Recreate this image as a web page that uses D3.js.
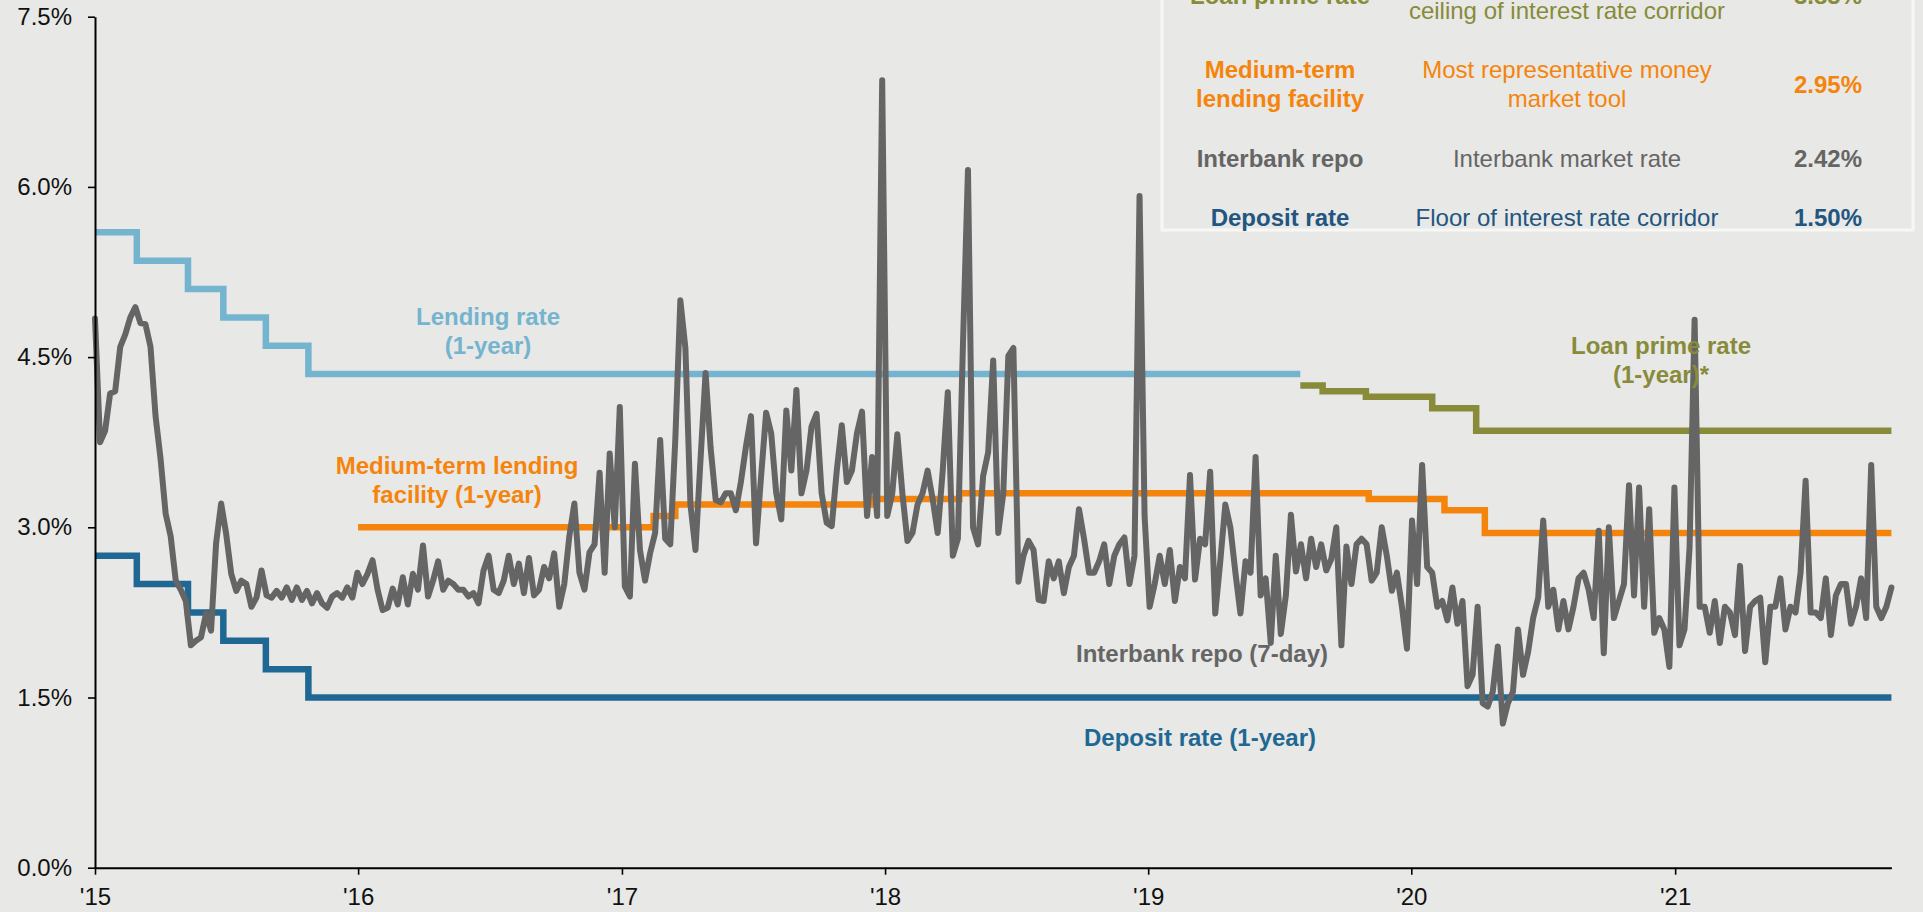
<!DOCTYPE html>
<html>
<head>
<meta charset="utf-8">
<script src="https://cdnjs.cloudflare.com/ajax/libs/d3/7.8.5/d3.min.js"></script>
<style>
  html, body { margin: 0; padding: 0; background: #e8e8e6; overflow: hidden; }
  svg { display: block; font-family: "Liberation Sans", Arial, Helvetica, sans-serif; }
</style>
</head>
<body>
<svg id="chart" width="1923" height="912"></svg>
<script>
// ---------------- DATA ----------------
const xDomain = ["2015-01-01", "2021-10-28"];
const yearTicks = ["2015-01-01", "2016-01-01", "2017-01-01", "2018-01-01", "2019-01-01", "2020-01-01", "2021-01-01"];
const yTicks = [0, 1.5, 3.0, 4.5, 6.0, 7.5];

// Benchmark 1-year lending rate (%), change dates
const lendingDates  = ["2015-01-01", "2015-02-28", "2015-05-10", "2015-06-28", "2015-08-26", "2015-10-24", "2019-07-31"];
const lendingValues = [5.60, 5.35, 5.10, 4.85, 4.60, 4.35, 4.35];

// Benchmark 1-year deposit rate (%)
const depositDates  = ["2015-01-01", "2015-02-28", "2015-05-10", "2015-06-28", "2015-08-26", "2015-10-24", "2021-10-28"];
const depositValues = [2.75, 2.50, 2.25, 2.00, 1.75, 1.50, 1.50];

// Medium-term lending facility 1-year (%)
const mlfDates  = ["2016-01-01", "2017-02-14", "2017-03-16", "2017-12-13", "2018-04-14", "2019-11-03", "2020-02-16", "2020-04-12", "2021-10-28"];
const mlfValues = [3.00, 3.10, 3.20, 3.25, 3.30, 3.25, 3.15, 2.95, 2.95];

// Loan prime rate 1-year (%)
const lprDates  = ["2019-07-31", "2019-08-31", "2019-10-30", "2020-01-30", "2020-03-31", "2021-10-28"];
const lprValues = [4.25, 4.20, 4.15, 4.05, 3.85, 3.85];

// Interbank repo 7-day (%), weekly readings starting 2015-01-01
const repoStart = "2015-01-01";
const repoValues = [
  4.84, 3.75, 3.85, 4.18, 4.20, 4.59, 4.70, 4.85, 4.94, 4.80,
  4.79, 4.59, 3.98, 3.60, 3.12, 2.92, 2.53, 2.45, 2.35, 1.96,
  2.00, 2.03, 2.24, 2.09, 2.86, 3.21, 2.94, 2.59, 2.44, 2.53,
  2.50, 2.30, 2.38, 2.62, 2.40, 2.38, 2.44, 2.38, 2.47, 2.36,
  2.47, 2.36, 2.44, 2.33, 2.42, 2.33, 2.29, 2.39, 2.42, 2.38,
  2.47, 2.38, 2.60, 2.50, 2.59, 2.71, 2.45, 2.27, 2.29, 2.46,
  2.32, 2.56, 2.32, 2.59, 2.45, 2.84, 2.39, 2.53, 2.70, 2.45,
  2.53, 2.50, 2.45, 2.45, 2.39, 2.42, 2.33, 2.62, 2.75, 2.45,
  2.42, 2.53, 2.75, 2.50, 2.68, 2.42, 2.73, 2.40, 2.45, 2.65,
  2.55, 2.77, 2.30, 2.50, 2.92, 3.21, 2.60, 2.45, 2.78, 2.85,
  3.48, 2.60, 3.65, 3.00, 4.06, 2.48, 2.39, 3.56, 2.80, 2.53,
  2.77, 2.95, 3.77, 2.90, 2.85, 3.77, 5.00, 4.58, 3.20, 2.80,
  3.60, 4.36, 3.70, 3.24, 3.22, 3.30, 3.30, 3.15, 3.40, 3.71,
  3.98, 2.86, 3.45, 4.01, 3.83, 3.30, 3.07, 4.03, 3.50, 4.21,
  3.30, 3.50, 3.89, 4.00, 3.30, 3.04, 3.01, 3.50, 3.90, 3.40,
  3.50, 3.83, 4.02, 3.10, 3.62, 3.10, 6.94, 3.10, 3.30, 3.82,
  3.30, 2.88, 2.95, 3.20, 3.30, 3.50, 3.25, 2.95, 3.50, 4.19,
  2.75, 2.90, 4.60, 6.15, 3.00, 2.85, 3.45, 3.66, 4.47, 2.95,
  3.30, 4.51, 4.58, 2.52, 2.75, 2.88, 2.80, 2.36, 2.35, 2.70,
  2.55, 2.70, 2.42, 2.65, 2.75, 3.16, 2.90, 2.60, 2.60, 2.70,
  2.85, 2.50, 2.75, 2.85, 2.91, 2.50, 2.75, 5.92, 3.10, 2.30,
  2.50, 2.75, 2.50, 2.80, 2.35, 2.65, 2.55, 3.46, 2.54, 2.90,
  2.85, 3.49, 2.24, 2.70, 3.20, 3.00, 2.60, 2.24, 2.70, 2.60,
  3.62, 2.40, 2.55, 1.98, 2.75, 2.06, 2.40, 3.11, 2.61, 2.85,
  2.55, 2.90, 2.65, 2.85, 2.62, 2.72, 3.00, 1.96, 2.83, 2.50,
  2.85, 2.90, 2.85, 2.53, 2.60, 3.00, 2.75, 2.44, 2.60, 2.30,
  1.93, 3.06, 2.50, 3.55, 2.65, 2.60, 2.30, 2.35, 2.18, 2.47,
  2.15, 2.35, 1.60, 1.70, 2.30, 1.45, 1.42, 1.55, 1.95, 1.27,
  1.45, 1.55, 2.10, 1.70, 1.90, 2.20, 2.38, 3.06, 2.30, 2.45,
  2.10, 2.35, 2.10, 2.30, 2.55, 2.60, 2.45, 2.20, 2.97, 1.89,
  3.00, 2.20, 2.35, 2.50, 3.37, 2.40, 3.35, 2.30, 3.16, 2.07,
  2.20, 2.10, 1.77, 3.35, 1.96, 2.10, 2.82, 4.83, 2.30, 2.30,
  2.07, 2.35, 1.98, 2.30, 2.25, 2.05, 2.66, 1.91, 2.30, 2.35,
  2.38, 1.81, 2.30, 2.30, 2.55, 2.10, 2.30, 2.25, 2.60, 3.41,
  2.25, 2.25, 2.20, 2.55, 2.05, 2.40, 2.50, 2.50, 2.15, 2.30,
  2.55, 2.20, 3.55, 2.30, 2.20, 2.30, 2.47
];

// Series labels on the chart
const seriesLabels = [
  ["Lending rate", "(1-year)"],
  ["Medium-term lending", "facility (1-year)"],
  ["Loan prime rate", "(1-year)*"],
  ["Interbank repo (7-day)"],
  ["Deposit rate (1-year)"]
];

// Summary table
const tableNames = [["Loan prime rate"], ["Medium-term", "lending facility"], ["Interbank repo"], ["Deposit rate"]];
const tableDescs = [["", "ceiling of interest rate corridor"], ["Most representative money", "market tool"], ["Interbank market rate"], ["Floor of interest rate corridor"]];
const tableRates = ["3.85%", "2.95%", "2.42%", "1.50%"];

// ---------------- STYLE / LAYOUT ----------------
const C = {
  bg: "#e8e8e6",
  lending: "#74b4cf",
  deposit: "#1f6893",
  mlf: "#f5840c",
  lpr: "#878b3a",
  repo: "#656565",
  depositText: "#22557f",
  axis: "#000000"
};
const W = 1923, H = 912;
const plot = { left: 95, right: 1891.4, top: 16.7, bottom: 867.7 };

const parse = d3.timeParse("%Y-%m-%d");
const svg = d3.select("#chart");
svg.append("rect").attr("width", W).attr("height", H).attr("fill", C.bg);

const x = d3.scaleTime().domain(xDomain.map(parse)).range([plot.left, plot.right]);
const y = d3.scaleLinear().domain([0, 7.5]).range([plot.bottom, plot.top]);

// ---------- table ----------
const tbl = svg.append("g");
tbl.append("rect")
  .attr("x", 1162).attr("y", -20).attr("width", 751).attr("height", 250)
  .attr("fill", "none").attr("stroke", "#f7f7f6").attr("stroke-width", 3);
const rowColors = [C.lpr, C.mlf, C.repo, C.depositText];
const rowCenters = [-4.5, 84, 158, 217];
const colX = [1280, 1567, 1828];
const lineH = 29;
function block(lines, cx, cy, color, weight) {
  const n = lines.length;
  lines.forEach((t, i) => {
    if (!t) return;
    tbl.append("text")
      .attr("x", cx)
      .attr("y", cy + (i - (n - 1) / 2) * lineH + 8.5)
      .attr("text-anchor", "middle")
      .attr("font-size", 24)
      .attr("font-weight", weight)
      .attr("fill", color)
      .text(t);
  });
}
tableNames.forEach((names, r) => {
  block(names, colX[0], rowCenters[r], rowColors[r], "bold");
  block(tableDescs[r], colX[1], rowCenters[r], rowColors[r], "normal");
  block([tableRates[r]], colX[2], rowCenters[r], rowColors[r], "bold");
});

// ---------- step lines ----------
function stepSeries(dates, values) {
  return dates.map((d, i) => ({ date: parse(d), value: values[i] }));
}
const stepLine = d3.line().x(d => x(d.date)).y(d => y(d.value)).curve(d3.curveStepAfter);
const steps = [
  { data: stepSeries(lendingDates, lendingValues), color: C.lending },
  { data: stepSeries(depositDates, depositValues), color: C.deposit },
  { data: stepSeries(mlfDates, mlfValues), color: C.mlf },
  { data: stepSeries(lprDates, lprValues), color: C.lpr }
];
steps.forEach(s => {
  svg.append("path").datum(s.data)
    .attr("d", stepLine)
    .attr("fill", "none")
    .attr("stroke", s.color)
    .attr("stroke-width", 6.5)
    .attr("stroke-linejoin", "miter")
    .attr("stroke-linecap", "butt");
});

// ---------- interbank repo ----------
const start = parse(repoStart);
const repo = repoValues.map((v, i) => ({ date: d3.timeDay.offset(start, 7 * i), value: v }));
svg.append("path").datum(repo)
  .attr("d", d3.line().x(d => x(d.date)).y(d => y(d.value)))
  .attr("fill", "none")
  .attr("stroke", C.repo)
  .attr("stroke-width", 6)
  .attr("stroke-linejoin", "round")
  .attr("stroke-linecap", "round");

// ---------- axes ----------
const yAxis = d3.axisLeft(y).tickValues(yTicks).tickFormat(d => d3.format(".1f")(d) + "%")
  .tickSize(7).tickSizeOuter(0).tickPadding(16);
const gy = svg.append("g").attr("transform", `translate(${plot.left},0)`).call(yAxis);

const xAxis = d3.axisBottom(x).tickValues(yearTicks.map(parse)).tickFormat(d => "'" + d3.timeFormat("%y")(d))
  .tickSize(7).tickSizeOuter(0).tickPadding(13);
const gx = svg.append("g").attr("transform", `translate(0,${plot.bottom})`).call(xAxis);

[gx, gy].forEach(g => {
  g.attr("font-family", null).attr("font-size", null);
  g.select(".domain").attr("stroke", C.axis).attr("stroke-width", 2);
  g.selectAll(".tick line").attr("stroke", C.axis).attr("stroke-width", 1.6);
  g.selectAll(".tick text").attr("fill", "#111").attr("font-size", 24);
});

// ---------- series labels ----------
const labelPos = [
  { x: 488, y: 325, color: C.lending },
  { x: 457, y: 474, color: C.mlf },
  { x: 1661, y: 354, color: C.lpr },
  { x: 1202, y: 662, color: C.repo },
  { x: 1200, y: 746, color: C.deposit }
];
seriesLabels.forEach((lines, i) => {
  const p = labelPos[i];
  lines.forEach((t, j) => {
    svg.append("text")
      .attr("x", p.x).attr("y", p.y + j * lineH)
      .attr("text-anchor", "middle")
      .attr("font-size", 24).attr("font-weight", "bold")
      .attr("fill", p.color)
      .text(t);
  });
});
</script>
</body>
</html>
